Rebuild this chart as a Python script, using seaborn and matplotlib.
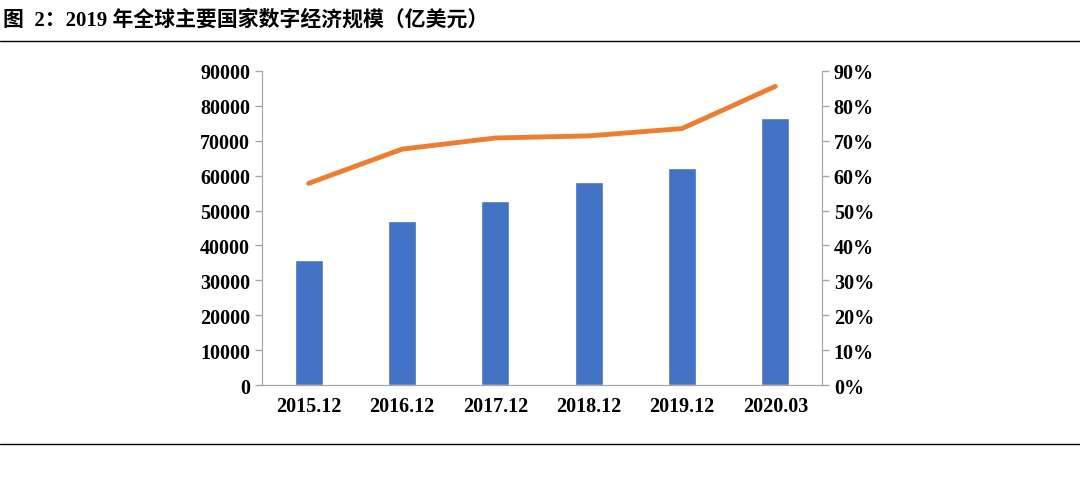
import matplotlib
matplotlib.use("Agg")
import matplotlib.pyplot as plt
import seaborn as sns
import pandas as pd
from matplotlib.ticker import PercentFormatter

sns.set_style("white")
plt.rcParams['font.family'] = ['Liberation Serif', 'Noto Sans CJK SC']
plt.rcParams['text.color'] = 'black'

categories = ["2015.12", "2016.12", "2017.12", "2018.12", "2019.12", "2020.03"]
bar_values = [35800, 46900, 52600, 58300, 62100, 76400]
line_values = [57.8, 67.6, 70.8, 71.4, 73.5, 85.6]
df = pd.DataFrame({"cat": categories, "bar": bar_values, "pct": line_values})

fig = plt.figure(figsize=(10.8, 4.89), dpi=100)
ax = fig.add_axes([262/1080, 1-386/489, (822-262)/1080, (386-72)/489])
sns.barplot(data=df, x="cat", y="bar", color="#4472C4", width=0.3, ax=ax, saturation=1)
ax.set_ylim(0, 90000)
ax.set_yticks(range(0, 90001, 10000))
ax.set_xlabel(""); ax.set_ylabel("")
ax2 = ax.twinx()
sns.lineplot(x=list(range(len(categories))), y=line_values, color="#ED7D31", linewidth=3.5, ax=ax2)
ax2.set_ylim(0, 90)
ax2.set_yticks(range(0, 91, 10))
ax2.yaxis.set_major_formatter(PercentFormatter(decimals=0))
ax.set_xlim(-0.5, 5.5)
for a in (ax, ax2):
    for s in a.spines.values():
        s.set_color("#A6A6A6")
    a.spines["top"].set_visible(False)
    a.tick_params(labelsize=14.5, length=5, color="#A6A6A6", width=1, labelcolor="black")
    for lbl in a.get_xticklabels() + a.get_yticklabels():
        lbl.set_fontweight("bold")
ax.tick_params(axis="x", length=0, pad=8)
ax.tick_params(axis="y", left=True, direction="out")
ax2.tick_params(axis="y", right=True, direction="out")

fig.text(0.003, 1-20/489, "图  2：2019 年全球主要国家数字经济规模（亿美元）", fontsize=15,
         fontweight="bold", va="center", ha="left", color="black")
fig.add_artist(plt.Line2D([0, 1], [1-42/489, 1-42/489], color="black", lw=1))
fig.add_artist(plt.Line2D([0, 1], [1-445/489, 1-445/489], color="black", lw=1))
fig.savefig("out.png", dpi=100)
